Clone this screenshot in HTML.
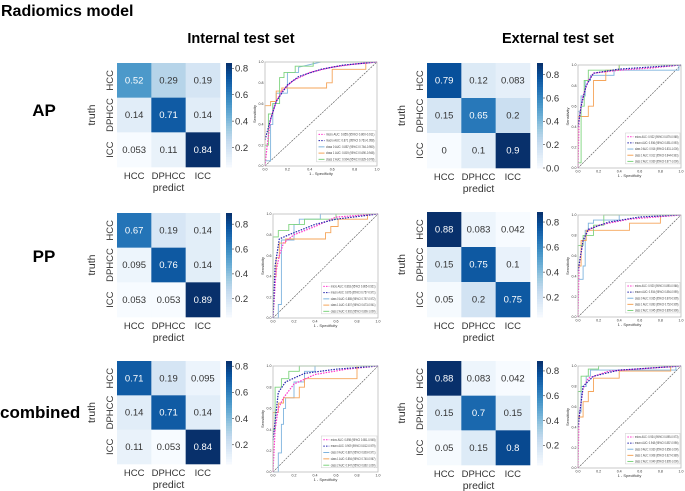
<!DOCTYPE html>
<html><head><meta charset="utf-8"><style>
body{margin:0;background:#fff;width:685px;height:491px;overflow:hidden;font-family:"Liberation Sans",sans-serif}
svg{display:block}
</style></head><body>
<svg id="fig" width="685" height="491" xmlns="http://www.w3.org/2000/svg">
<text x="1" y="16" font-size="16" font-weight="bold">Radiomics model</text>
<text x="241" y="43" font-size="14.5" font-weight="bold" text-anchor="middle">Internal test set</text>
<text x="558" y="43" font-size="14.5" font-weight="bold" text-anchor="middle">External test set</text>
<text x="44" y="116" font-size="17" font-weight="bold" text-anchor="middle">AP</text>
<text x="44" y="262" font-size="17" font-weight="bold" text-anchor="middle">PP</text>
<text x="0" y="418" font-size="17" font-weight="bold">combined</text>
</svg>
<script>
const classLabels = ["HCC","DPHCC","ICC"];
const cmIntAP = [[0.52,0.29,0.19],[0.14,0.71,0.14],[0.053,0.11,0.84]];
const cmIntPP = [[0.67,0.19,0.14],[0.095,0.76,0.14],[0.053,0.053,0.89]];
const cmIntComb = [[0.71,0.19,0.095],[0.14,0.71,0.14],[0.11,0.053,0.84]];
const cmExtAP = [[0.79,0.12,0.083],[0.15,0.65,0.2],[0,0.1,0.9]];
const cmExtPP = [[0.88,0.083,0.042],[0.15,0.75,0.1],[0.05,0.2,0.75]];
const cmExtComb = [[0.88,0.083,0.042],[0.15,0.7,0.15],[0.05,0.15,0.8]];
const cbTicks = [0.0,0.2,0.4,0.6,0.8];
const rocTicks = [0,0.2,0.4,0.6,0.8,1.0];

// ROC curves [fpr, tpr]
const iapMicro=[[0,0],[0.02,0.2],[0.05,0.45],[0.1,0.62],[0.15,0.72],[0.25,0.82],[0.4,0.9],[0.6,0.95],[0.8,0.98],[1,1]];
const iapMacro=[[0,0.25],[0.05,0.45],[0.1,0.62],[0.2,0.78],[0.3,0.86],[0.5,0.93],[0.7,0.97],[1,1]];
const iapC0=[[0,0],[0,0.05],[0.05,0.05],[0.05,0.4],[0.07,0.4],[0.07,0.6],[0.1,0.6],[0.1,0.7],[0.2,0.7],[0.2,0.9],[0.3,0.9],[0.3,0.95],[0.5,1],[1,1]];
const iapC1=[[0,0],[0,0.58],[0.05,0.58],[0.05,0.62],[0.1,0.62],[0.1,0.72],[0.15,0.72],[0.15,0.75],[0.55,0.75],[0.55,0.8],[0.6,0.8],[0.6,0.93],[0.9,0.93],[0.9,1],[1,1]];
const iapC2=[[0,0],[0,0.2],[0.03,0.2],[0.03,0.5],[0.07,0.5],[0.07,0.6],[0.13,0.6],[0.13,0.85],[0.17,0.85],[0.17,0.9],[0.27,0.9],[0.27,0.96],[0.43,0.96],[0.43,1],[1,1]];
const ippMicro=[[0,0],[0.03,0.45],[0.06,0.6],[0.1,0.72],[0.2,0.8],[0.4,0.88],[0.6,0.97],[1,1]];
const ippMacro=[[0,0],[0.02,0.5],[0.06,0.76],[0.15,0.8],[0.4,0.9],[0.6,0.95],[1,1]];
const ippC0=[[0,0],[0.05,0],[0.05,0.13],[0.08,0.13],[0.08,0.75],[0.2,0.75],[0.2,0.9],[0.25,0.9],[0.25,0.95],[0.45,0.95],[0.45,1],[1,1]];
const ippC1=[[0,0],[0,0.4],[0.03,0.4],[0.03,0.58],[0.06,0.58],[0.06,0.72],[0.12,0.72],[0.12,0.76],[0.5,0.76],[0.5,0.82],[0.55,0.82],[0.55,0.88],[0.62,0.88],[0.62,0.95],[0.9,0.95],[0.9,1],[1,1]];
const ippC2=[[0,0],[0,0.78],[0.05,0.78],[0.05,0.84],[0.15,0.84],[0.15,0.9],[0.3,0.9],[0.3,0.95],[0.6,0.95],[0.6,1],[1,1]];
const icoMicro=[[0,0],[0.02,0.4],[0.05,0.6],[0.1,0.7],[0.2,0.83],[0.4,0.92],[0.7,0.97],[1,1]];
const icoMacro=[[0,0.3],[0.05,0.75],[0.12,0.85],[0.3,0.93],[0.6,0.97],[1,1]];
const icoC0=[[0,0],[0.05,0],[0.05,0.18],[0.08,0.18],[0.08,0.45],[0.1,0.45],[0.1,0.6],[0.12,0.6],[0.12,0.7],[0.2,0.7],[0.2,0.85],[0.3,0.85],[0.3,0.95],[0.4,0.95],[0.4,1],[1,1]];
const icoC1=[[0,0],[0,0.56],[0.05,0.56],[0.05,0.65],[0.1,0.65],[0.1,0.7],[0.25,0.7],[0.25,0.8],[0.3,0.8],[0.3,0.88],[0.8,0.88],[0.8,1],[1,1]];
const icoC2=[[0,0],[0,0.4],[0.02,0.4],[0.02,0.8],[0.08,0.8],[0.08,0.88],[0.15,0.88],[0.15,0.95],[0.25,0.95],[0.25,1],[1,1]];
const eapMicro=[[0,0],[0.01,0.45],[0.03,0.6],[0.05,0.7],[0.1,0.85],[0.15,0.92],[0.4,0.95],[0.7,0.97],[1,1]];
const eapMacro=[[0,0.4],[0.03,0.6],[0.08,0.8],[0.15,0.92],[0.4,0.96],[1,1]];
const eapC0=[[0,0],[0,0.55],[0.03,0.55],[0.03,0.7],[0.07,0.7],[0.07,0.85],[0.12,0.85],[0.12,0.9],[0.35,0.9],[0.35,0.95],[0.98,0.95],[0.98,1],[1,1]];
const eapC1=[[0,0],[0,0.5],[0.1,0.5],[0.1,0.6],[0.15,0.6],[0.15,0.85],[0.27,0.85],[0.27,0.95],[0.4,0.95],[0.4,1],[1,1]];
const eapC2=[[0,0],[0,0.05],[0.03,0.05],[0.03,0.6],[0.06,0.6],[0.06,0.85],[0.1,0.85],[0.1,0.95],[0.4,0.95],[0.4,1],[1,1]];
const eppMicro=[[0,0],[0.01,0.5],[0.05,0.75],[0.1,0.85],[0.2,0.9],[0.5,0.96],[1,1]];
const eppMacro=[[0,0.45],[0.05,0.75],[0.1,0.86],[0.3,0.93],[0.6,0.98],[1,1]];
const eppC0=[[0,0],[0,0.37],[0.05,0.37],[0.05,0.5],[0.07,0.5],[0.07,0.85],[0.1,0.85],[0.1,0.92],[0.15,0.92],[0.15,0.95],[0.4,0.95],[0.4,1],[1,1]];
const eppC1=[[0,0],[0,0.5],[0.03,0.5],[0.03,0.75],[0.08,0.75],[0.08,0.85],[0.5,0.85],[0.5,0.92],[0.8,0.92],[0.8,1],[1,1]];
const eppC2=[[0,0],[0,0.7],[0.05,0.7],[0.05,0.8],[0.15,0.8],[0.15,0.9],[0.25,0.9],[0.25,1],[1,1]];
const ecoMicro=[[0,0],[0.01,0.5],[0.05,0.78],[0.1,0.88],[0.3,0.95],[1,1]];
const ecoMacro=[[0,0.4],[0.05,0.8],[0.15,0.9],[0.4,0.96],[1,1]];
const ecoC0=[[0,0],[0,0.55],[0.03,0.55],[0.03,0.8],[0.08,0.8],[0.08,0.9],[0.12,0.9],[0.12,0.96],[0.95,0.96],[0.95,1],[1,1]];
const ecoC1=[[0,0],[0,0.5],[0.05,0.5],[0.05,0.65],[0.1,0.65],[0.1,0.75],[0.15,0.75],[0.15,0.88],[0.4,0.88],[0.4,0.95],[0.9,0.95],[0.9,1],[1,1]];
const ecoC2=[[0,0],[0,0.75],[0.03,0.75],[0.03,0.9],[0.1,0.9],[0.1,0.97],[0.2,0.97],[0.2,1],[1,1]];

const legIntAP=["micro AUC: 0.855 (95%CI 0.800-0.911)","macro AUC: 0.871 (95%CI 0.761-0.958)","class 0 AUC: 0.857 (95%CI 0.764-0.950)","class 1 AUC: 0.819 (95%CI 0.690-0.948)","class 2 AUC: 0.904 (95%CI 0.829-0.978)"];
const legIntPP=["micro AUC: 0.863 (95%CI 0.805-0.921)","macro AUC: 0.876 (95%CI 0.757-0.971)","class 0 AUC: 0.885 (95%CI 0.797-0.972)","class 1 AUC: 0.807 (95%CI 0.673-0.941)","class 2 AUC: 0.902 (95%CI 0.806-1.000)"];
const legIntComb=["micro AUC: 0.898 (95%CI 0.851-0.945)","macro AUC: 0.909 (95%CI 0.812-0.979)","class 0 AUC: 0.887 (95%CI 0.803-0.971)","class 1 AUC: 0.854 (95%CI 0.740-0.967)","class 2 AUC: 0.947 (95%CI 0.892-1.000)"];
const legExtAP=["micro AUC: 0.922 (95%CI 0.879-0.965)","macro AUC: 0.936 (95%CI 0.851-0.993)","class 0 AUC: 0.916 (95%CI 0.831-1.000)","class 1 AUC: 0.912 (95%CI 0.844-0.981)","class 2 AUC: 0.939 (95%CI 0.877-1.000)"];
const legExtPP=["micro AUC: 0.920 (95%CI 0.890-0.966)","macro AUC: 0.934 (95%CI 0.854-0.995)","class 0 AUC: 0.935 (95%CI 0.876-0.995)","class 1 AUC: 0.893 (95%CI 0.752-0.995)","class 2 AUC: 0.945 (95%CI 0.895-0.996)"];
const legExtComb=["micro AUC: 0.934 (95%CI 0.895-0.973)","macro AUC: 0.948 (95%CI 0.857-0.996)","class 0 AUC: 0.930 (95%CI 0.858-1.000)","class 1 AUC: 0.908 (95%CI 0.827-0.989)","class 2 AUC: 0.949 (95%CI 0.895-1.000)"];

const NS="http://www.w3.org/2000/svg";
const fig=document.getElementById('fig');
function mk(tag,attrs,parent){const e=document.createElementNS(NS,tag);for(const k in attrs)e.setAttribute(k,attrs[k]);(parent||fig).appendChild(e);return e;}
const blues=["#f7fbff","#deebf7","#c6dbef","#9ecae1","#6baed6","#4292c6","#2171b5","#08519c","#08306b"];
function hex(h){return [1,3,5].map(i=>parseInt(h.substr(i,2),16));}
function cmap(t){t=Math.max(0,Math.min(1,t));const p=t*8,i=Math.min(7,Math.floor(p)),f=p-i;const a=hex(blues[i]),b=hex(blues[i+1]);return "rgb("+a.map((v,k)=>Math.round(v+(b[k]-v)*f)).join(",")+")";}

function heatmap(name,cm,x0,y0,w,h,cbx){
  const g=mk('g',{});
  
  
  const flat=cm.flat();const vmin=Math.min(...flat),vmax=Math.max(...flat);
  const cw=w/3,ch=h/3;
  cm.forEach((row,r)=>row.forEach((v,c)=>{
    const t=(v-vmin)/(vmax-vmin);
    const rc=mk('rect',{x:x0+c*cw,y:y0+r*ch,width:cw+0.3,height:ch+0.3,fill:cmap(t)},g);
    
    
    const tx=mk('text',{x:x0+c*cw+cw/2,y:y0+r*ch+ch/2+3.2,'font-size':9.5,'text-anchor':'middle',fill:t>0.5?'#fff':'#333'},g);
    tx.textContent=String(v);
    
    
  }));
  classLabels.forEach((l,i)=>{
    const t=mk('text',{x:x0+i*cw+cw/2,y:y0+h+12,'font-size':9.5,'text-anchor':'middle',fill:'#333'},g);t.textContent=l;
    
    
    const yy=y0+i*ch+ch/2;
    const t2=mk('text',{x:x0-4,y:yy,'font-size':9.5,'text-anchor':'middle',fill:'#333',transform:`rotate(-90 ${x0-4} ${yy})`},g);t2.textContent=l;
    
    
  });
  const xl=mk('text',{x:x0+w/2,y:y0+h+24,'font-size':10.5,'text-anchor':'middle',fill:'#333'},g);xl.textContent='predict';
  
  
  const yx=x0-22,yy=y0+h/2;
  const yl=mk('text',{x:yx,y:yy,'font-size':10.5,'text-anchor':'middle',fill:'#333',transform:`rotate(-90 ${yx} ${yy})`},g);yl.textContent='truth';
  
  
  const n=40;
  for(let i=0;i<n;i++){mk('rect',{x:cbx,y:y0+h-(i+1)*h/n,width:6,height:h/n+0.4,fill:cmap((i+0.5)/n)},g);}
  cbTicks.forEach(v=>{if(v<vmin-0.005||v>vmax)return;const yy=y0+h-(v-vmin)/(vmax-vmin)*h;
    mk('line',{x1:cbx+6,x2:cbx+8,y1:yy,y2:yy,stroke:'#333','stroke-width':0.6},g);
    const t=mk('text',{x:cbx+9,y:yy+3.3,'font-size':9.5,fill:'#333'},g);t.textContent=v.toFixed(1);
    
    });
}

function roc(name,curves,leg,x0,y0,w,h){
  const g=mk('g',{});
  
  
  const X=v=>x0+v*w, Y=v=>y0+h-v*h;
  mk('line',{x1:X(0),y1:Y(0),x2:X(1),y2:Y(1),stroke:'#555','stroke-width':0.6,'stroke-dasharray':'2,1'},g);
  const styles=[{c:'#ff33cc',d:'1.5,1.2',w:1.2},{c:'#2222aa',d:'1.5,1.2',w:1.2},{c:'#7fb4de',d:'',w:0.9},{c:'#f5a55a',d:'',w:0.9},{c:'#7fd47f',d:'',w:0.9}];
  const order=[2,3,4,0,1];
  order.forEach(k=>{const s=styles[k];
    const p=mk('polyline',{points:curves[k].map(q=>X(q[0]).toFixed(1)+','+Y(q[1]).toFixed(1)).join(' '),fill:'none',stroke:s.c,'stroke-width':s.w,'stroke-dasharray':s.d},g);
    
    });
  mk('rect',{x:x0,y:y0,width:w,height:h,fill:'none',stroke:'#bbb','stroke-width':0.8},g);
  rocTicks.forEach(v=>{
    const a=mk('text',{x:X(v),y:y0+h+4.5,'font-size':3.6,'text-anchor':'middle',fill:'#333'},g);a.textContent=v.toFixed(1);
    
    
    const b=mk('text',{x:x0-1.5,y:Y(v)+1.2,'font-size':3.6,'text-anchor':'end',fill:'#333'},g);b.textContent=v.toFixed(1);
    
    
  });
  const xt=mk('text',{x:x0+w/2,y:y0+h+9,'font-size':4,'text-anchor':'middle',fill:'#333'},g);xt.textContent='1 - Specificity';
  
  
  const yx=x0-9,yy=y0+h/2;
  const yt=mk('text',{x:yx,y:yy,'font-size':4,'text-anchor':'middle',fill:'#333',transform:`rotate(-90 ${yx} ${yy})`},g);yt.textContent='Sensitivity';
  
  
  const lx=x0+w*0.46,ly=y0+h*0.66,lw=w*0.53,lh=h*0.3;
  const lb=mk('rect',{x:lx,y:ly,width:lw,height:lh,fill:'#fff','fill-opacity':0.85,stroke:'#ccc','stroke-width':0.5},g);
  
  
  leg.forEach((s,i)=>{const st=styles[i];const yy=ly+lh*(i+0.6)/5;
    mk('line',{x1:lx+2,x2:lx+8,y1:yy,y2:yy,stroke:st.c,'stroke-width':1,'stroke-dasharray':st.d},g);
    const t=mk('text',{x:lx+9.5,y:yy+1.1,'font-size':3.3,fill:'#444',textLength:(lw-11).toFixed(1),lengthAdjust:'spacingAndGlyphs'},g);t.textContent=s;
    
    });
}

heatmap('heatmap-internal-ap',cmIntAP,117,63,103,104,226);
heatmap('heatmap-internal-pp',cmIntPP,117,213,103,104,226);
heatmap('heatmap-internal-combined',cmIntComb,117,361,103,103,226);
heatmap('heatmap-external-ap',cmExtAP,427,63,103,105,537);
heatmap('heatmap-external-pp',cmExtPP,427,212,103,105,537);
heatmap('heatmap-external-combined',cmExtComb,427,361,103,104,537);
roc('roc-internal-ap',[iapMicro,iapMacro,iapC0,iapC1,iapC2],legIntAP,265,62,112,104);
roc('roc-internal-pp',[ippMicro,ippMacro,ippC0,ippC1,ippC2],legIntPP,273,214,105,104);
roc('roc-internal-combined',[icoMicro,icoMacro,icoC0,icoC1,icoC2],legIntComb,273,366,105,106);
roc('roc-external-ap',[eapMicro,eapMacro,eapC0,eapC1,eapC2],legExtAP,578,65,103,103);
roc('roc-external-pp',[eppMicro,eppMacro,eppC0,eppC1,eppC2],legExtPP,578,215,103,102);
roc('roc-external-combined',[ecoMicro,ecoMacro,ecoC0,ecoC1,ecoC2],legExtComb,578,366,103,102);
</script>
</body></html>
